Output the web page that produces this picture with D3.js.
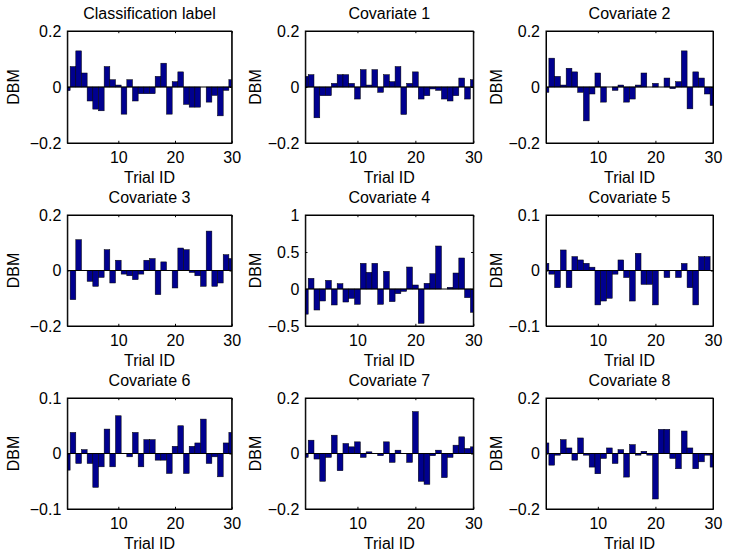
<!DOCTYPE html>
<html>
<head>
<meta charset="utf-8">
<script src="https://cdn.jsdelivr.net/npm/d3@7"></script>
<style>
  html, body { margin: 0; padding: 0; background: #fff; }
  svg { display: block; }
  text { font-family: "Liberation Sans", Arial, Helvetica, sans-serif; fill: #000; }
</style>
</head>
<body>
<svg id="chart" width="729" height="556"></svg>
<script>
// ---- Data ----
const titles = ["Classification label", "Covariate 1", "Covariate 2",
                "Covariate 3", "Covariate 4", "Covariate 5",
                "Covariate 6", "Covariate 7", "Covariate 8"];
const trials = d3.range(1, 31);
const xTicks = [10, 20, 30];

const classLabel = [-0.013, 0.073, 0.129, 0.05, -0.05, -0.079, -0.085, 0.073, 0.026, 0.007,
                    -0.097, 0.026, -0.05, -0.024, -0.024, -0.024, 0.038, 0.085, -0.097, 0.019,
                    0.054, -0.062, -0.072, -0.072, 0, -0.054, -0.03, -0.103, -0.012, 0.026];
const cov1 = [0.038, 0.044, -0.11, -0.031, -0.031, 0.013, 0.044, 0.044, 0.013, -0.043,
              0.062, 0.007, 0.062, -0.019, 0.044, 0.019, 0.073, -0.098, 0.013, 0.054,
              -0.043, -0.031, -0.007, -0.012, -0.043, -0.05, -0.031, 0.032, -0.043, 0.026];
const cov2 = [-0.019, 0.103, 0.038, 0.007, 0.067, 0.054, -0.019, -0.121, -0.025, 0.05,
              -0.054, 0, -0.012, 0.007, -0.054, -0.043, 0.007, 0.05, 0, 0.013,
              0, 0.032, -0.006, 0.019, 0.129, -0.078, 0.054, 0.032, -0.025, -0.066];
const cov3 = [0, -0.105, 0.111, 0, -0.039, -0.057, -0.025, 0.075, -0.045, 0.037,
              -0.013, -0.019, -0.033, -0.013, 0.037, 0.043, -0.087, 0.031, 0, -0.063,
              0.081, 0.075, -0.007, -0.019, -0.057, 0.142, -0.057, -0.045, 0.057, 0.043];
const cov4 = [-0.34, 0.144, -0.284, -0.162, 0.117, -0.216, 0.072, -0.176, -0.126, -0.207,
              0.347, 0.225, 0.347, -0.207, 0.239, -0.171, -0.063, -0.032, 0.297, 0.054,
              -0.464, 0.077, 0.207, 0.581, 0, 0.023, 0.216, 0.419, -0.117, -0.315];
const cov5 = [0.013, -0.0066, -0.031, 0.037, -0.031, 0.025, 0.019, 0.013, 0.006, -0.062,
              -0.055, -0.05, -0.0066, 0.019, -0.0127, -0.055, 0.031, -0.025, -0.025, -0.062,
              0, -0.0127, 0, -0.0127, 0.0127, -0.031, -0.062, 0.025, 0.025, 0];
const cov6 = [-0.03, 0.038, -0.018, 0.007, -0.018, -0.061, -0.024, 0.044, -0.024, 0.068,
              0, -0.006, 0.038, -0.024, 0.025, 0.025, -0.012, -0.012, -0.036, 0.013,
              0.05, -0.036, 0.013, 0.019, 0.062, -0.018, -0.006, -0.042, 0.019, 0.038];
const cov7 = [-0.014, 0.048, -0.02, -0.1, -0.014, 0.066, -0.062, 0.036, 0.024, 0.042,
              -0.014, 0.006, 0, -0.008, 0.042, -0.032, 0.012, 0, -0.032, 0.151,
              -0.1, -0.111, -0.008, 0.012, -0.087, -0.014, 0.03, 0.06, 0.018, 0.024];
const cov8 = [0.038, -0.042, -0.006, 0.05, 0.02, -0.024, 0.056, -0.006, -0.049, -0.073,
              -0.018, 0.02, -0.036, 0.014, -0.085, 0.032, -0.006, 0.008, -0.006, -0.164,
              0.087, 0.087, -0.018, -0.055, 0.081, 0.02, -0.055, -0.03, -0.006, -0.049];

const seriesList = [classLabel, cov1, cov2, cov3, cov4, cov5, cov6, cov7, cov8];
const yDomains = [[-0.2, 0.2], [-0.2, 0.2], [-0.2, 0.2],
                  [-0.2, 0.2], [-0.5, 1], [-0.1, 0.1],
                  [-0.1, 0.1], [-0.2, 0.2], [-0.2, 0.2]];
const yTickSets = [[-0.2, 0, 0.2], [-0.2, 0, 0.2], [-0.2, 0, 0.2],
                   [-0.2, 0, 0.2], [-0.5, 0, 0.5, 1], [-0.1, 0, 0.1],
                   [-0.1, 0, 0.1], [-0.2, 0, 0.2], [-0.2, 0, 0.2]];

// ---- Layout ----
const colLeft = [67.3, 305.3, 546];
const colRight = [231.7, 473.3, 713];
const rowTop = [31, 215, 398];
const rowBottom = [143, 326, 509];
const fs = 16;
const barFill = "#00008F";
const tickLen = 2.2;

const svg = d3.select("#chart");
const fmt = v => (v < 0 ? "\u2212" : "") + String(Math.abs(v));

seriesList.forEach((vals, idx) => {
  const r = Math.floor(idx / 3), c = idx % 3;
  const L = colLeft[c], R = colRight[c], T = rowTop[r], B = rowBottom[r];
  const x = d3.scaleLinear().domain([1, 30]).range([L, R]);
  const y = d3.scaleLinear().domain(yDomains[idx]).range([B, T]);
  const g = svg.append("g");

  const clipId = "clip" + idx;
  svg.append("clipPath").attr("id", clipId)
    .append("rect").attr("x", L).attr("y", T).attr("width", R - L).attr("height", B - T);

  const bars = g.append("g").attr("clip-path", `url(#${clipId})`);
  bars.selectAll("rect").data(trials.map((t, i) => ({t, v: vals[i]})))
    .join("rect")
    .attr("x", d => x(d.t - 0.5))
    .attr("width", d => x(d.t + 0.5) - x(d.t - 0.5))
    .attr("y", d => Math.min(y(0), y(d.v)))
    .attr("height", d => Math.abs(y(d.v) - y(0)))
    .attr("fill", barFill)
    .attr("stroke", "#000")
    .attr("stroke-width", 0.5);

  // baseline
  g.append("line").attr("x1", L).attr("x2", R).attr("y1", y(0)).attr("y2", y(0))
    .attr("stroke", "#000").attr("stroke-width", 1);

  // axes with inward ticks
  const axB = d3.axisBottom(x).tickValues(xTicks).tickSizeInner(-tickLen).tickSizeOuter(0).tickPadding(6).tickFormat(d3.format("d"));
  const axT = d3.axisTop(x).tickValues(xTicks).tickSizeInner(-tickLen).tickSizeOuter(0).tickFormat("");
  const axL = d3.axisLeft(y).tickValues(yTickSets[idx]).tickSizeInner(-tickLen).tickSizeOuter(0).tickPadding(6).tickFormat(fmt);
  const axR = d3.axisRight(y).tickValues(yTickSets[idx]).tickSizeInner(-tickLen).tickSizeOuter(0).tickFormat("");

  const gb = g.append("g").attr("transform", `translate(0,${B})`).call(axB);
  const gt = g.append("g").attr("transform", `translate(0,${T})`).call(axT);
  const gl = g.append("g").attr("transform", `translate(${L},0)`).call(axL);
  const gr = g.append("g").attr("transform", `translate(${R},0)`).call(axR);
  [gb, gt, gl, gr].forEach(a => {
    a.select(".domain").attr("stroke", "#000").attr("stroke-width", 1);
    a.selectAll(".tick line").attr("stroke", "#000").attr("stroke-width", 1);
    a.selectAll("text").style("font-size", fs + "px")
      .style("font-family", '"Liberation Sans", Arial, Helvetica, sans-serif').attr("fill", "#000");
  });
  gb.selectAll(".tick text").attr("dy", "0.88em");
  g.append("rect").attr("x", L).attr("y", T).attr("width", R - L).attr("height", B - T)
    .attr("fill", "none").attr("stroke", "#000").attr("stroke-width", 1);

  // title
  g.append("text").attr("x", (L + R) / 2).attr("y", T - 12)
    .attr("text-anchor", "middle").style("font-size", fs + "px").text(titles[idx]);
  // x label
  g.append("text").attr("x", (L + R) / 2).attr("y", B + 40)
    .attr("text-anchor", "middle").style("font-size", fs + "px").text("Trial ID");
  // y label
  const ylx = L - (c === 0 ? 54 : 50);
  g.append("text").attr("transform", `translate(${ylx + 6},${(T + B) / 2}) rotate(-90)`)
    .attr("text-anchor", "middle").style("font-size", fs + "px").text("DBM");
});
</script>
</body>
</html>
